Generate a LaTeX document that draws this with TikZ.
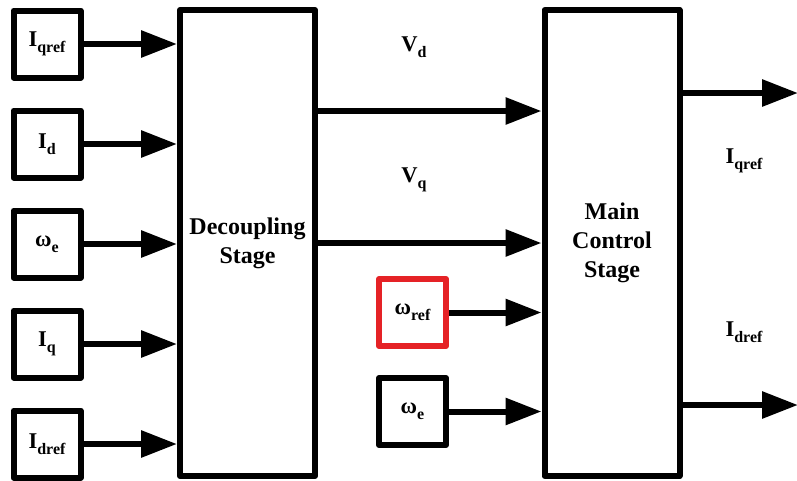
\documentclass[tikz,border=0pt]{standalone}
\usepackage{fontspec}
\setmainfont{Liberation Serif}
\usetikzlibrary{arrows.meta}
\definecolor{boxred}{RGB}{229,34,38}
\newcommand{\sublbl}[2]{\fontsize{22.5}{24}\selectfont\bfseries #1\raisebox{-0.28em}{\fontsize{16}{16}\selectfont\bfseries #2}}
\tikzset{
  inbox/.style={draw=black, line width=6pt, line join=round, minimum width=67pt, minimum height=67pt, inner sep=0pt, fill=white},
  stagebox/.style={draw=black, line width=6pt, line join=round, minimum width=135pt, minimum height=466pt, inner sep=0pt, align=center, font=\fontsize{24}{29}\selectfont\bfseries},
  sig/.style={line width=6pt, -{Triangle[length=36pt,width=26pt]}},
  lbl/.style={inner sep=0pt}
}
\begin{document}
\begin{tikzpicture}[x=1pt,y=-1pt]
\useasboundingbox (0,0) rectangle (797,480);
% stages
\node[stagebox] (dec) at (247.5,243) {Decoupling\\Stage};
\node[stagebox] (main) at (612,243) {Main\\Control\\Stage};
% input boxes
\node[inbox] (iq) at (47,44) {\sublbl{I}{qref}};
\node[inbox] (id) at (47,144) {\sublbl{I}{d}};
\node[inbox] (we) at (47,244) {\sublbl{ω}{e}};
\node[inbox] (iqq) at (47,344) {\sublbl{I}{q}};
\node[inbox] (idr) at (47,444) {\sublbl{I}{dref}};
\node[inbox, draw=boxred] (wr) at (412.5,312.5) {\sublbl{ω}{ref}};
\node[inbox] (we2) at (412.5,411.5) {\sublbl{ω}{e}};
% input arrows
\draw[sig] (iq.east) -- (iq.east -| dec.west);
\draw[sig] (id.east) -- (id.east -| dec.west);
\draw[sig] (we.east) -- (we.east -| dec.west);
\draw[sig] (iqq.east) -- (iqq.east -| dec.west);
\draw[sig] (idr.east) -- (idr.east -| dec.west);
% between stages
\coordinate (vd) at (315,111);
\coordinate (vq) at (315,243);
\draw[sig] (vd -| dec.east) -- (vd -| main.west);
\draw[sig] (vq -| dec.east) -- (vq -| main.west);
\node[lbl] (vdl) at (414,47) {\sublbl{V}{d}};
\node[lbl] (vql) at (414,180) {\sublbl{V}{q}};
% omega inputs
\draw[sig] (wr.east) -- (wr.east -| main.west);
\draw[sig] (we2.east) -- (we2.east -| main.west);
% outputs
\coordinate (o1) at (798,93);
\coordinate (o2) at (798,405);
\draw[sig] (o1 -| main.east) -- (o1);
\draw[sig] (o2 -| main.east) -- (o2);
\node[lbl] (oql) at (744,161) {\sublbl{I}{qref}};
\node[lbl] (odl) at (744,332) {\sublbl{I}{dref}};
\end{tikzpicture}
\end{document}
